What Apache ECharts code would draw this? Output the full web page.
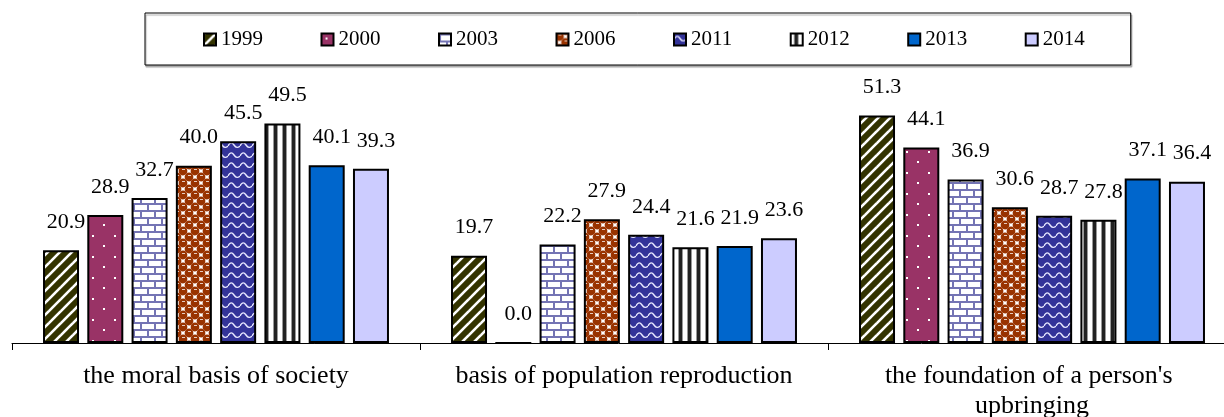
<!DOCTYPE html>
<html>
<head>
<meta charset="utf-8">
<script src="https://cdn.jsdelivr.net/npm/echarts@6/dist/echarts.min.js"></script>
<style>
  html, body { margin: 0; padding: 0; background: #fff; }
  #chart { width: 1224px; height: 417px; }
</style>
</head>
<body>
<div id="chart"></div>
<script>
const categories = ['the moral basis of society', 'basis of population reproduction', "the foundation of a person's upbringing"]
const years = ['1999', '2000', '2003', '2006', '2011', '2012', '2013', '2014']
const v1999 = [20.9, 19.7, 51.3]
const v2000 = [28.9, 0.0, 44.1]
const v2003 = [32.7, 22.2, 36.9]
const v2006 = [40.0, 27.9, 30.6]
const v2011 = [45.5, 24.4, 28.7]
const v2012 = [49.5, 21.6, 27.8]
const v2013 = [40.1, 21.9, 37.1]
const v2014 = [39.3, 23.6, 36.4]

const FONT = 'Liberation Serif'

// small canvas tiles used as fill patterns (excel-like hatches)
function tile(w, h, draw) {
  const c = document.createElement('canvas')
  c.width = w
  c.height = h
  draw(c.getContext('2d'), w, h)
  return { image: c, repeat: 'repeat' }
}

const patterns = [
  // 1999 wide diagonal
  tile(12, 12, (ctx, w, h) => {
    ctx.fillStyle = '#333300'
    ctx.fillRect(0, 0, w, h)
    ctx.strokeStyle = '#ffffff'
    ctx.lineWidth = 2.6
    for (let k = -1; k <= 1; k++) {
      ctx.beginPath()
      ctx.moveTo(k * w - 2, h + 2)
      ctx.lineTo(k * w + w + 2, -2)
      ctx.stroke()
    }
  }),
  // 2000 dots
  tile(22, 21, (ctx, w, h) => {
    ctx.fillStyle = '#993366'
    ctx.fillRect(0, 0, w, h)
    ctx.fillStyle = '#ffffff'
    ctx.fillRect(4, 4, 2, 2)
    ctx.fillRect(15, 14, 2, 2)
  }),
  // 2003 bricks
  tile(14, 14, (ctx, w, h) => {
    ctx.fillStyle = '#ffffff'
    ctx.fillRect(0, 0, w, h)
    ctx.fillStyle = '#7474b4'
    ctx.fillRect(0, 0, w, 2)
    ctx.fillRect(0, 7, w, 2)
    ctx.fillRect(0, 0, 2, 7)
    ctx.fillRect(7, 7, 2, 7)
  }),
  // 2006 spheres
  tile(12, 12, (ctx, w, h) => {
    ctx.fillStyle = '#ffffff'
    ctx.fillRect(0, 0, w, h)
    ctx.fillStyle = '#993300'
    const pts = [[3, 3], [9, 9], [-3, 9], [9, -3], [15, 3], [3, 15]]
    pts.forEach(p => {
      ctx.beginPath()
      ctx.arc(p[0], p[1], 4.4, 0, Math.PI * 2)
      ctx.fill()
    })
    ctx.fillStyle = 'rgba(255,255,255,0.75)'
    ctx.fillRect(2, 1, 3, 1)
    ctx.fillRect(8, 7, 3, 1)
  }),
  // 2011 waves
  tile(12, 10, (ctx, w, h) => {
    ctx.fillStyle = '#333399'
    ctx.fillRect(0, 0, w, h)
    ctx.strokeStyle = '#e8e8ff'
    ctx.lineWidth = 1.4
    ctx.beginPath()
    ctx.moveTo(0, 6)
    ctx.bezierCurveTo(2, 2, 4, 2, 6, 5)
    ctx.bezierCurveTo(8, 8, 10, 8, 12, 6)
    ctx.stroke()
  }),
  // 2012 vertical stripes
  tile(9, 4, (ctx, w, h) => {
    ctx.fillStyle = '#ffffff'
    ctx.fillRect(0, 0, w, h)
    ctx.fillStyle = '#999999'
    ctx.fillRect(3, 0, 1, h)
    ctx.fillRect(7, 0, 1, h)
    ctx.fillStyle = '#222222'
    ctx.fillRect(4, 0, 3, h)
  }),
  '#0066cc',
  '#ccccff'
]

const values = [v1999, v2000, v2003, v2006, v2011, v2012, v2013, v2014]

const chart = echarts.init(document.getElementById('chart'))

chart.setOption({
  animation: false,
  legend: {
    data: years,
    left: 145,
    top: 13,
    padding: [16, 46, 15, 58],
    itemGap: 57.5,
    itemWidth: 12,
    itemHeight: 12,
    icon: 'rect',
    backgroundColor: '#ffffff',
    borderColor: '#000000',
    borderWidth: 1,
    shadowColor: '#aaaaaa',
    shadowOffsetX: 1,
    shadowOffsetY: 2,
    shadowBlur: 1,
    textStyle: {
      fontFamily: FONT,
      fontSize: 21,
      color: '#000'
    }
  },
  grid: {
    left: 12,
    top: 77,
    width: 1224,
    height: 266,
    outerBoundsMode: 'none'
  },
  xAxis: {
    type: 'category',
    data: categories,
    axisLine: { lineStyle: { color: '#000', width: 1 } },
    axisTick: { show: true, length: 7, lineStyle: { color: '#000' } },
    axisLabel: {
      interval: 0,
      margin: 18,
      fontFamily: FONT,
      fontSize: 26,
      lineHeight: 30,
      color: '#000',
      width: 380,
      overflow: 'break'
    }
  },
  yAxis: {
    type: 'value',
    min: 0,
    max: 60,
    show: false,
    splitLine: { show: false }
  },
  series: years.map((y, i) => ({
    name: y,
    type: 'bar',
    data: values[i],
    barWidth: 36,
    barGap: '23%',
    itemStyle: {
      color: patterns[i],
      borderColor: '#000',
      borderWidth: 2
    },
    label: {
      show: true,
      position: 'top',
      distance: 17,
      offset: [5, 0],
      fontFamily: FONT,
      fontSize: 22,
      color: '#000',
      formatter: p => p.value.toFixed(1)
    }
  }))
})
</script>
</body>
</html>
